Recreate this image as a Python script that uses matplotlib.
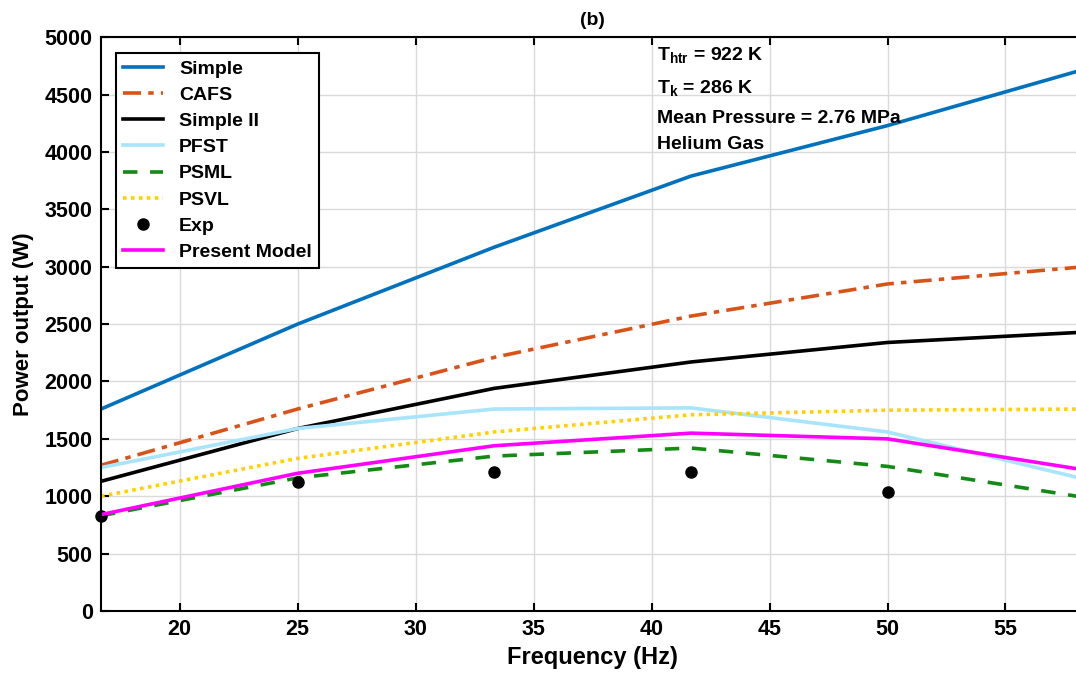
import matplotlib
matplotlib.use("Agg")
import matplotlib.pyplot as plt
import numpy as np

plt.rcParams['font.family'] = ['Liberation Sans', 'DejaVu Sans']
plt.rcParams['font.weight'] = 'bold'
plt.rcParams['mathtext.fontset'] = 'custom'
plt.rcParams['mathtext.rm'] = 'Liberation Sans:bold'
plt.rcParams['mathtext.it'] = 'Liberation Sans:bold'
plt.rcParams['mathtext.bf'] = 'Liberation Sans:bold'

# data
freq = [16.67, 25.0, 33.33, 41.67, 50.0, 58.33]
simple = [1760, 2500, 3170, 3790, 4230, 4720]
cafs = [1270, 1760, 2210, 2570, 2850, 3000]
simple2 = [1130, 1590, 1940, 2170, 2340, 2430]
pfst = [1250, 1590, 1760, 1770, 1560, 1150]
psml = [830, 1160, 1350, 1420, 1260, 990]
psvl = [1000, 1330, 1560, 1710, 1750, 1760]
exp_f = [16.67, 25.0, 33.33, 41.67, 50.0]
exp_p = [830, 1120, 1210, 1210, 1040]
present = [840, 1200, 1440, 1550, 1500, 1230]

fig = plt.figure(figsize=(10.76, 6.77), dpi=100)
ax = fig.add_axes([0.0939, 0.0975, 1.0075 - 0.0939, 0.945 - 0.0975])

ax.plot(freq, simple, color='#0072BD', lw=2.6, label='Simple')
ax.plot(freq, cafs, color='#D95319', lw=2.6, ls=(0, (5, 2, 1.5, 2)), label='CAFS')
ax.plot(freq, simple2, color='black', lw=2.6, label='Simple II')
ax.plot(freq, pfst, color='#A8E4FA', lw=2.6, label='PFST')
ax.plot(freq, psml, color='#138A13', lw=2.6, ls=(0, (4, 3.5)), label='PSML')
ax.plot(freq, psvl, color='#FFD100', lw=2.6, ls=(0, (1, 1.2)), label='PSVL')
ax.plot(exp_f, exp_p, 'o', color='black', ms=8, label='Exp', clip_on=False)
ax.plot(freq, present, color='#FF00FF', lw=2.6, label='Present Model')

ax.set_xlim(16.67, 58.33)
ax.set_ylim(0, 5000)
ax.set_xticks(range(20, 60, 5))
ax.set_yticks(range(0, 5001, 500))
ax.grid(True, color='#DADADA', lw=1)
ax.set_axisbelow(True)
ax.tick_params(direction='in', length=6, width=1.5, top=True, right=True, labelsize=15.5, pad=6)
for s in ax.spines.values():
    s.set_linewidth(1.5)

ax.set_xlabel('Frequency (Hz)', fontsize=17, fontweight='bold', labelpad=4)
ax.set_ylabel('Power output (W)', fontsize=16, fontweight='bold', labelpad=8)
ax.set_title('(b)', fontsize=14, fontweight='bold', pad=9)

leg = ax.legend(loc='upper left', bbox_to_anchor=(0.015, 0.972), borderaxespad=0,
                fontsize=14, frameon=True, fancybox=False, edgecolor='black',
                framealpha=1, handlelength=2.1, labelspacing=0.44, borderpad=0.35,
                handletextpad=0.8)
leg.get_frame().set_linewidth(1.5)

txt = ['T$_{htr}$ = 922 K', 'T$_{k}$ = 286 K', 'Mean Pressure = 2.76 MPa', 'Helium Gas']
txt_y = [0.986, 0.929, 0.873, 0.828]
for t, yy in zip(txt, txt_y):
    ax.text(0.566, yy, t, transform=ax.transAxes, fontsize=14,
            fontweight='bold', va='top', ha='left')

fig.savefig('out.png', dpi=100)
